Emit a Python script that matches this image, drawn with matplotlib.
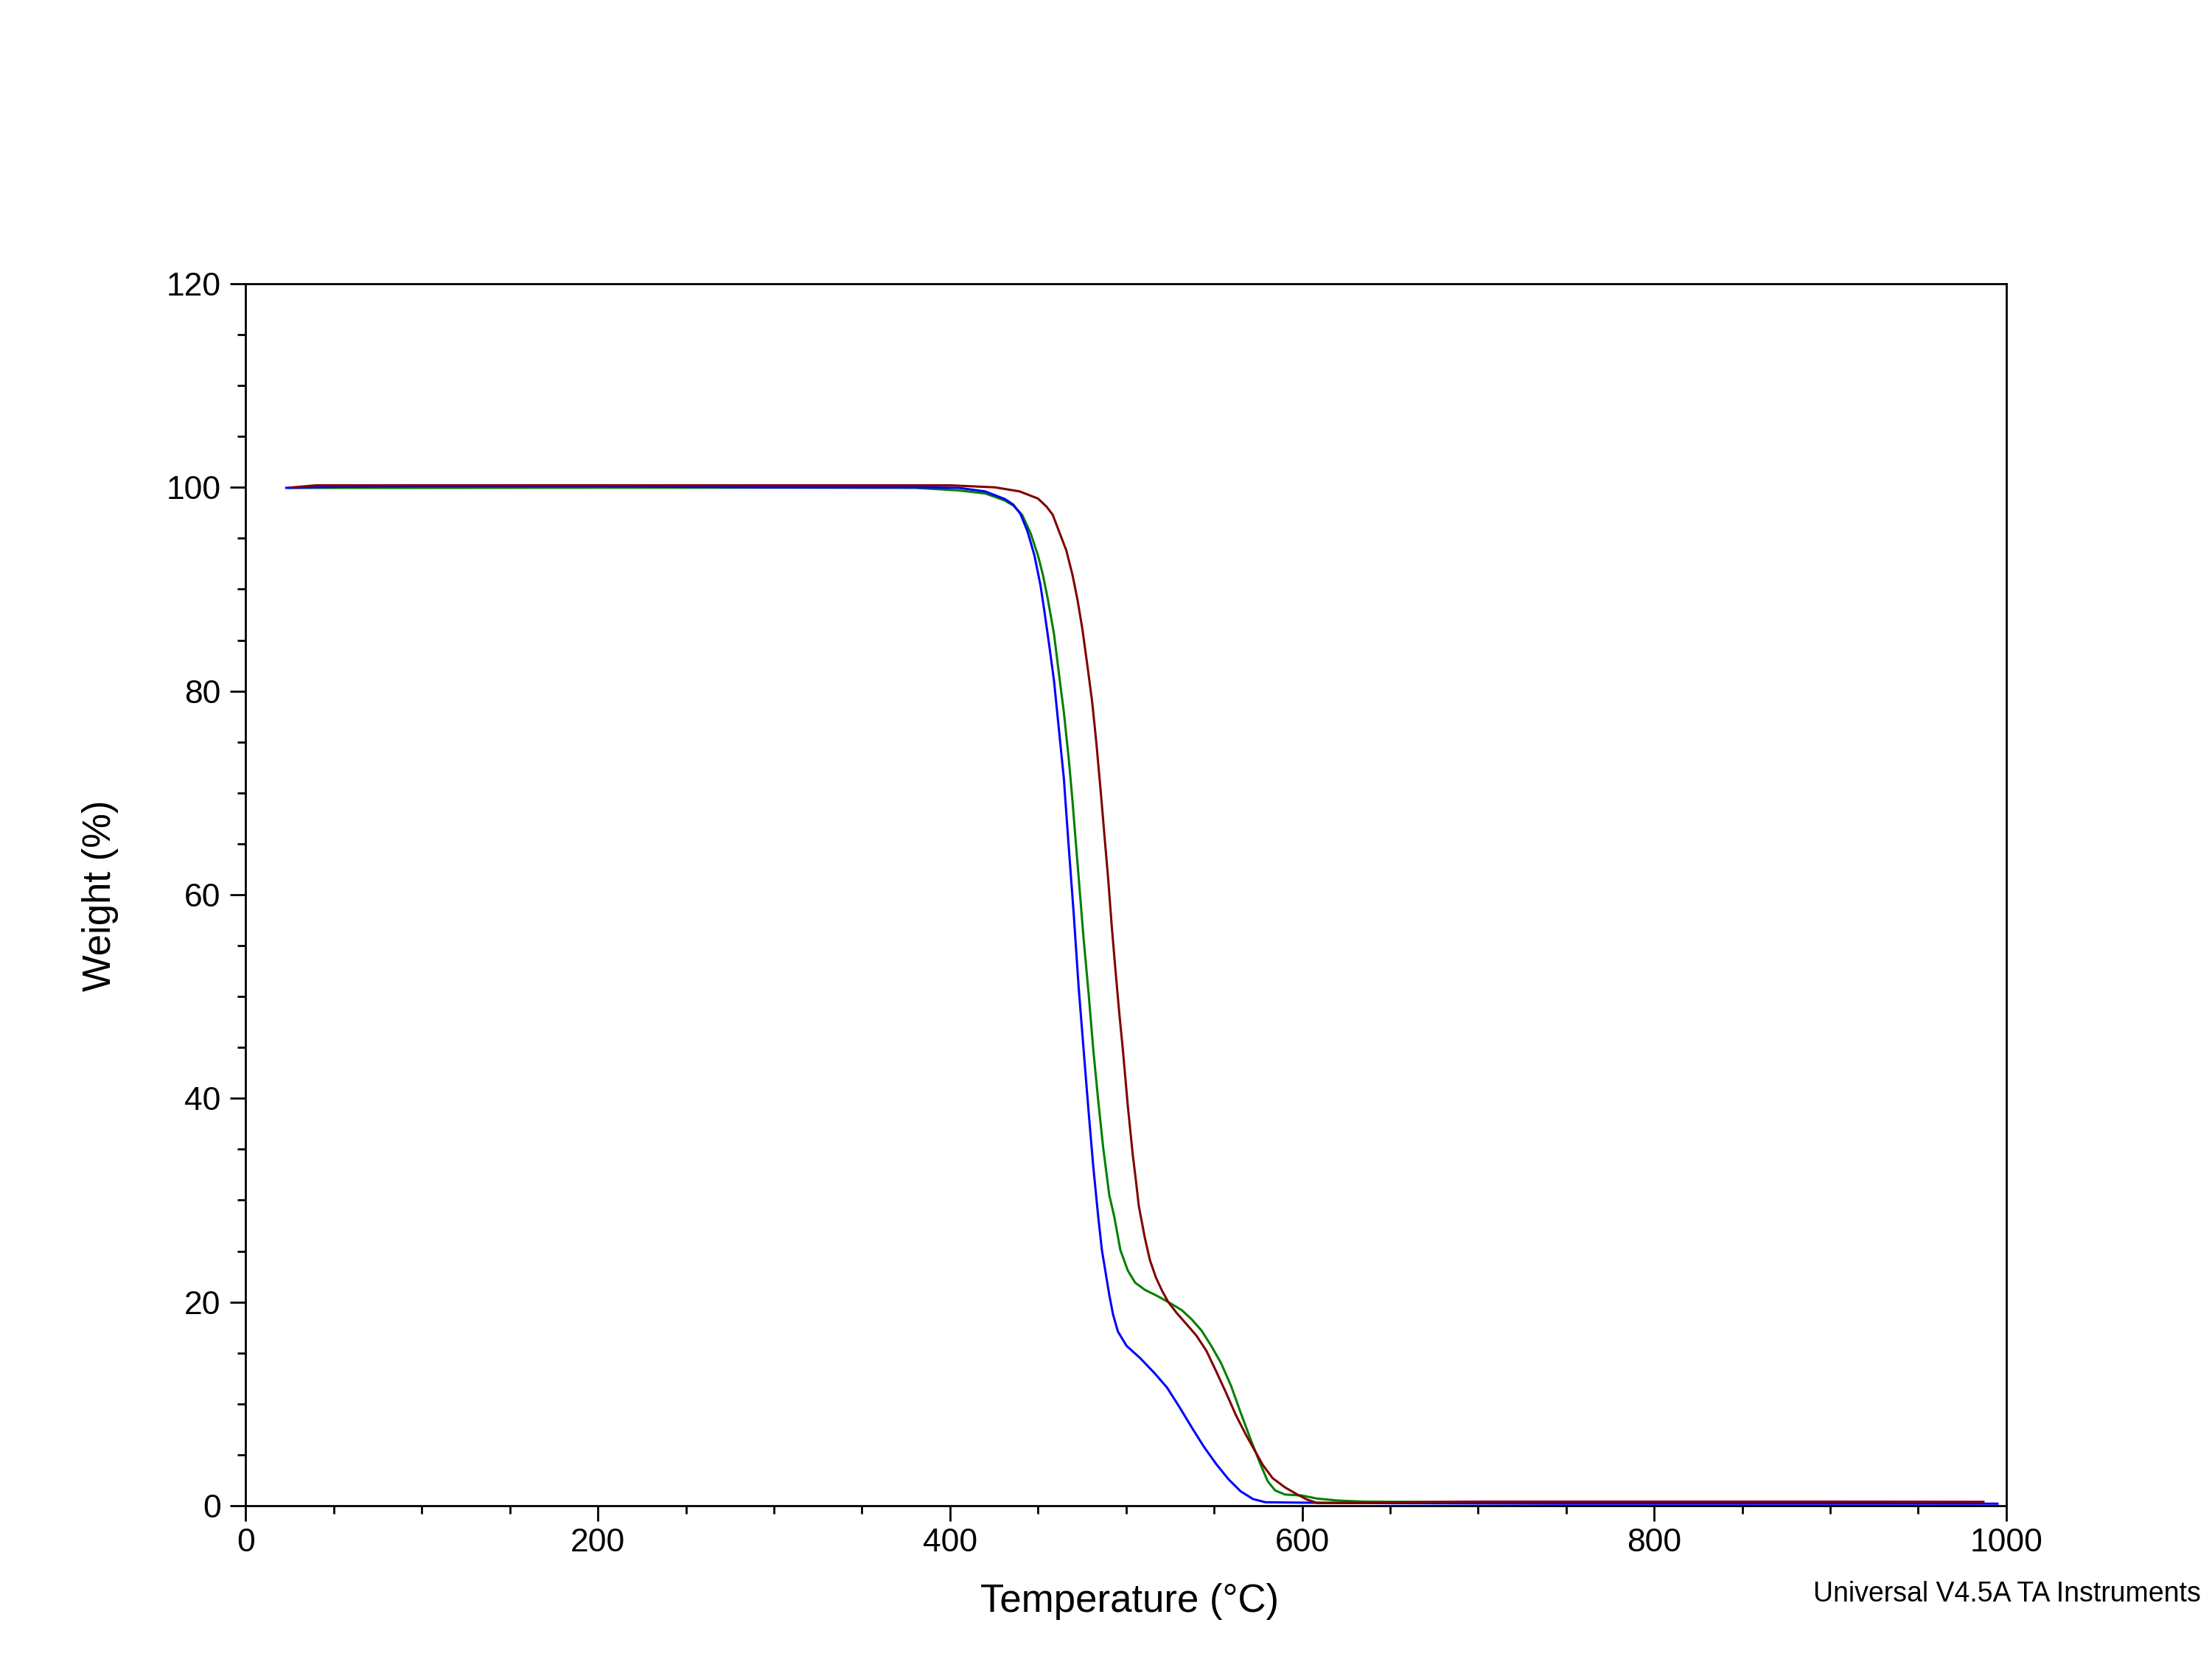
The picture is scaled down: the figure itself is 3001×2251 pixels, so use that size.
import matplotlib
matplotlib.use("Agg")
import matplotlib.pyplot as plt
from matplotlib.ticker import MultipleLocator

# ---- data (Temperature °C, Weight %) ----
blue_T = [23, 50, 100, 150, 200, 250, 300, 350, 380, 405, 420, 426, 431.2, 436, 440, 444, 448,
          451.4, 453.5, 456.3, 459.1, 461.9, 464.7, 467.2, 470.3, 473.1, 475.9, 478.7,
          481.4, 484.2, 486.3, 488.4, 490.5, 492.6, 495.4, 500.3, 508, 516.3, 523.3,
          530.3, 537.3, 544.2, 551.2, 558.2, 565.2, 572.2, 579.2, 600, 650, 700, 750,
          800, 850, 900, 950, 995]
blue_W = [99.95, 100.05, 100.1, 100.1, 100.1, 100.05, 100.0, 100.0, 100.0, 99.95, 99.6,
          99.2, 98.85, 98.3, 97.4, 95.7, 93.3, 90.4, 88.0, 84.6, 81.0, 76.2, 71.4, 65.3, 58.1,
          50.9, 44.8, 38.8, 33.3, 28.4, 25.1, 22.9, 20.7, 18.8, 17.1, 15.7, 14.5, 13.0,
          11.6, 9.7, 7.7, 5.8, 4.1, 2.6, 1.4, 0.65, 0.34, 0.3, 0.25, 0.22, 0.2, 0.2, 0.2,
          0.2, 0.2, 0.2]

green_T = [25, 100, 200, 300, 380, 405, 420, 425.6, 431.2, 436.1, 441, 445.8, 450, 452.8, 455.6,
           459.1, 461.9, 464.7, 467.5, 469.6, 471.4, 473.1, 475.9, 478.7, 481.4, 484.2,
           487, 490.5, 493.3, 496.8, 501, 505.2, 510.7, 517.7, 524, 531.7, 537.3, 542.9,
           548.4, 554, 559.6, 565.2, 570.8, 576.3, 580.5, 584.7, 590.3, 600, 608.5, 621,
           635, 677, 750, 850, 985]
green_W = [99.95, 99.95, 99.97, 99.97, 99.95, 99.7, 99.4, 99.06, 98.7, 98.2, 97.3, 95.5, 93.3,
           91.4, 89.0, 85.6, 81.7, 77.9, 73.3, 69.2, 65.3, 61.7, 55.7, 50.4, 44.8, 39.8,
           35.2, 30.5, 28.4, 25.1, 23.1, 21.9, 21.2, 20.6, 20.0, 19.2, 18.3, 17.2, 15.7,
           14.0, 11.8, 9.1, 6.5, 4.1, 2.4, 1.5, 1.1, 1.0, 0.7, 0.5, 0.4, 0.35, 0.3, 0.3, 0.3]

red_T = [26.5, 40, 100, 200, 300, 400, 425.6, 439.6, 450, 454.9, 458.4, 461.9, 466.1,
         469.6, 472.4, 475.2, 477.9, 480.8, 483.1, 485.6, 488, 489.8, 491.9, 494, 496.1,
         498.2, 501, 503.8, 505.5, 507.3, 510.7, 513.6, 517, 520.5, 524, 528.9, 534.5,
         540, 545.7, 551.2, 556.8, 562.4, 568, 573.5, 577.7, 583.3, 590.3, 597.3, 602.9,
         608.5, 635, 660, 700, 800, 900, 987]
red_W = [100.0, 100.2, 100.2, 100.2, 100.2, 100.2, 100.0, 99.6, 98.9, 98.1, 97.3, 95.7,
         93.8, 91.4, 89.0, 86.1, 82.7, 78.9, 75.0, 70.2, 65.3, 61.7, 56.9, 52.6, 48.5,
         44.8, 39.3, 34.5, 32.1, 29.4, 26.3, 24.1, 22.4, 21.1, 20.0, 18.9, 17.8, 16.7,
         15.2, 13.2, 11.1, 8.9, 7.0, 5.3, 4.0, 2.7, 1.8, 1.1, 0.6, 0.27, 0.27, 0.35, 0.4,
         0.4, 0.4, 0.38]

x_label = "Temperature (°C)"
y_label = "Weight (%)"
footer = "Universal V4.5A TA Instruments"

plt.rcParams['font.family'] = ['Liberation Sans', 'DejaVu Sans']

fig = plt.figure(figsize=(30.01, 22.51), dpi=100)
ax = fig.add_axes([0.1111, 0.0924, 0.7959, 0.7366])

ax.plot(green_T, green_W, color='#008000', lw=2.2)
ax.plot(blue_T, blue_W, color='#0000ff', lw=2.2)
ax.plot(red_T, red_W, color='#800000', lw=2.2)

ax.set_xlim(0, 1000)
ax.set_ylim(0, 120)
ax.xaxis.set_major_locator(MultipleLocator(200))
ax.xaxis.set_minor_locator(MultipleLocator(50))
ax.yaxis.set_major_locator(MultipleLocator(20))
ax.yaxis.set_minor_locator(MultipleLocator(5))

for s in ax.spines.values():
    s.set_linewidth(2.0)
    s.set_color('black')

ax.tick_params(axis='both', which='both', direction='out', top=False, right=False,
               width=2.0, color='black')
ax.tick_params(axis='both', which='major', length=15)
ax.tick_params(axis='both', which='minor', length=8)
ax.tick_params(axis='x', which='major', labelsize=32, pad=6.5)
ax.tick_params(axis='y', which='major', labelsize=32, pad=9.4)

fig.text(1532 / 3001, (2251 - 2187) / 2251, x_label, fontsize=38,
         ha='center', va='baseline')
fig.text(150 / 3001, (2251 - 1215) / 2251, y_label, fontsize=38, rotation=90,
         rotation_mode='anchor', ha='center', va='baseline')
fig.text(2986 / 3001, (2251 - 2173) / 2251, footer, fontsize=27,
         ha='right', va='baseline')

fig.savefig("out.png", dpi=100, facecolor='white')
